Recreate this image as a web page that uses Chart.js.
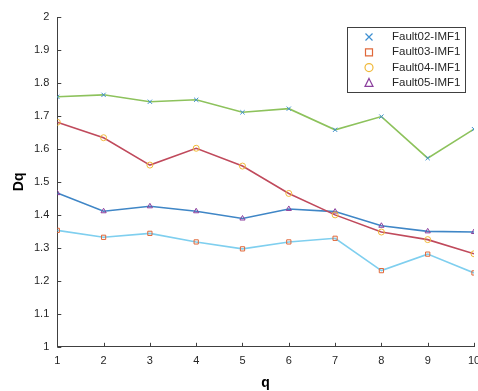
<!DOCTYPE html>
<html>
<head>
<meta charset="utf-8">
<script src="https://cdn.jsdelivr.net/npm/chart.js@4/dist/chart.umd.min.js"></script>
<style>
  html, body { margin: 0; padding: 0; background: #fff; overflow: hidden; }
  #wrap { width: 490px; height: 391px; }
</style>
</head>
<body>
<div id="wrap"><canvas id="dq-chart" width="490" height="391"></canvas></div>
<script>
// q values on the x axis
var qValues = [1, 2, 3, 4, 5, 6, 7, 8, 9, 10]
var yTicks = [1, 1.1, 1.2, 1.3, 1.4, 1.5, 1.6, 1.7, 1.8, 1.9, 2]

// generalized dimension Dq per fault
var fault02 = [1.758, 1.764, 1.743, 1.749, 1.711, 1.722, 1.658, 1.698, 1.572, 1.660]
var fault03 = [1.353, 1.332, 1.344, 1.318, 1.297, 1.318, 1.329, 1.231, 1.281, 1.224]
var fault04 = [1.681, 1.634, 1.551, 1.602, 1.548, 1.465, 1.400, 1.348, 1.325, 1.282]
var fault05 = [1.466, 1.411, 1.426, 1.411, 1.389, 1.418, 1.410, 1.367, 1.350, 1.348]

var labels = ['Fault02-IMF1', 'Fault03-IMF1', 'Fault04-IMF1', 'Fault05-IMF1']

function pts(arr) {
  return arr.map(function (v, i) { return { x: qValues[i], y: v } })
}

function series(label, values, lineColor, markColor, style) {
  return {
    label: label,
    data: pts(values),
    borderColor: lineColor,
    borderWidth: 1.6,
    pointStyle: style,
    pointRadius: 3,
    pointBorderColor: markColor,
    pointBackgroundColor: 'rgba(0,0,0,0)',
    pointBorderWidth: 1,
    tension: 0,
    fill: false
  }
}

var axisColor = '#404040'
var fontFam = '"Liberation Sans", Arial, sans-serif'

// legend box drawn inside the plot, markers only
var boxLegend = {
  id: 'boxLegend',
  afterDraw: function (chart) {
    var ctx = chart.ctx
    var x0 = 347, y0 = 27, w = 118, h = 65
    ctx.save()
    ctx.fillStyle = '#fff'
    ctx.fillRect(x0, y0, w, h)
    ctx.strokeStyle = axisColor
    ctx.lineWidth = 1
    ctx.strokeRect(x0 + 0.5, y0 + 0.5, w, h)
    ctx.font = '11.5px ' + fontFam
    ctx.textBaseline = 'middle'
    chart.data.datasets.forEach(function (ds, i) {
      var cy = y0 + 10 + i * 15.3
      var cx = x0 + 22
      drawMark(ctx, ds.pointStyle, cx, cy, 3.5, ds.pointBorderColor)
      ctx.fillStyle = '#262626'
      ctx.fillText(ds.label, x0 + 45, cy)
    })
    ctx.restore()
  }
}

function drawMark(ctx, style, x, y, r, color) {
  ctx.save()
  ctx.strokeStyle = color
  ctx.lineWidth = 1.2
  ctx.beginPath()
  if (style === 'crossRot') {
    ctx.moveTo(x - r, y - r); ctx.lineTo(x + r, y + r)
    ctx.moveTo(x + r, y - r); ctx.lineTo(x - r, y + r)
  } else if (style === 'rect') {
    ctx.rect(x - r, y - r, 2 * r, 2 * r)
  } else if (style === 'circle') {
    ctx.arc(x, y, r + 0.5, 0, Math.PI * 2)
  } else if (style === 'triangle') {
    ctx.moveTo(x, y - r - 1); ctx.lineTo(x + r + 0.5, y + r); ctx.lineTo(x - r - 0.5, y + r); ctx.closePath()
  }
  ctx.stroke()
  ctx.restore()
}

// small tick marks pointing into the plot
var innerTicks = {
  id: 'innerTicks',
  afterDraw: function (chart) {
    var ctx = chart.ctx, a = chart.chartArea
    var xs = chart.scales.x, ys = chart.scales.y
    ctx.save()
    ctx.strokeStyle = axisColor
    ctx.lineWidth = 1
    ctx.beginPath()
    xs.ticks.forEach(function (t) {
      var px = Math.round(xs.getPixelForValue(t.value)) + 0.5
      ctx.moveTo(px, a.bottom); ctx.lineTo(px, a.bottom - 4)
    })
    ys.ticks.forEach(function (t) {
      var py = Math.round(ys.getPixelForValue(t.value)) + 0.5
      ctx.moveTo(a.left, py); ctx.lineTo(a.left + 4, py)
    })
    ctx.stroke()
    ctx.restore()
  }
}

var ctxEl = document.getElementById('dq-chart')
var dqChart = new Chart(ctxEl, {
  type: 'line',
  data: {
    datasets: [
      series(labels[0], fault02, '#8dc25c', '#3d8fd1', 'crossRot'),
      series(labels[1], fault03, '#7fcfef', '#e0683a', 'rect'),
      series(labels[2], fault04, '#c04a5c', '#f0b93a', 'circle'),
      series(labels[3], fault05, '#3f86c6', '#8b3f9d', 'triangle')
    ]
  },
  options: {
    responsive: false,
    animation: false,
    devicePixelRatio: 1,
    layout: { padding: { left: 12, right: 16, top: 17, bottom: 1 } },
    plugins: {
      legend: { display: false },
      tooltip: { enabled: false }
    },
    scales: {
      x: {
        type: 'linear',
        min: 1,
        max: 10,
        grid: { display: false, drawTicks: false, tickLength: 0 },
        border: { display: true, color: axisColor, width: 1 },
        afterBuildTicks: function (s) { s.ticks = qValues.map(function (v) { return { value: v } }) },
        ticks: {
          color: '#262626',
          padding: 8,
          maxRotation: 0,
          font: { family: fontFam, size: 11 }
        },
        title: {
          display: true,
          text: 'q',
          color: '#000',
          padding: { top: 0, bottom: 0 },
          font: { family: fontFam, size: 14, weight: 'bold', lineHeight: 1 }
        }
      },
      y: {
        min: 1,
        max: 2,
        grid: { display: false, drawTicks: false, tickLength: 0 },
        border: { display: true, color: axisColor, width: 1 },
        afterBuildTicks: function (s) { s.ticks = yTicks.map(function (v) { return { value: v } }) },
        ticks: {
          color: '#262626',
          padding: 8,
          font: { family: fontFam, size: 11 },
          callback: function (v) { return String(Math.round(v * 10) / 10) }
        },
        title: {
          display: true,
          text: 'Dq',
          color: '#000',
          padding: { top: 0, bottom: 0 },
          font: { family: fontFam, size: 14, weight: 'bold', lineHeight: 1 }
        }
      }
    }
  },
  plugins: [innerTicks, boxLegend]
})
</script>
</body>
</html>
